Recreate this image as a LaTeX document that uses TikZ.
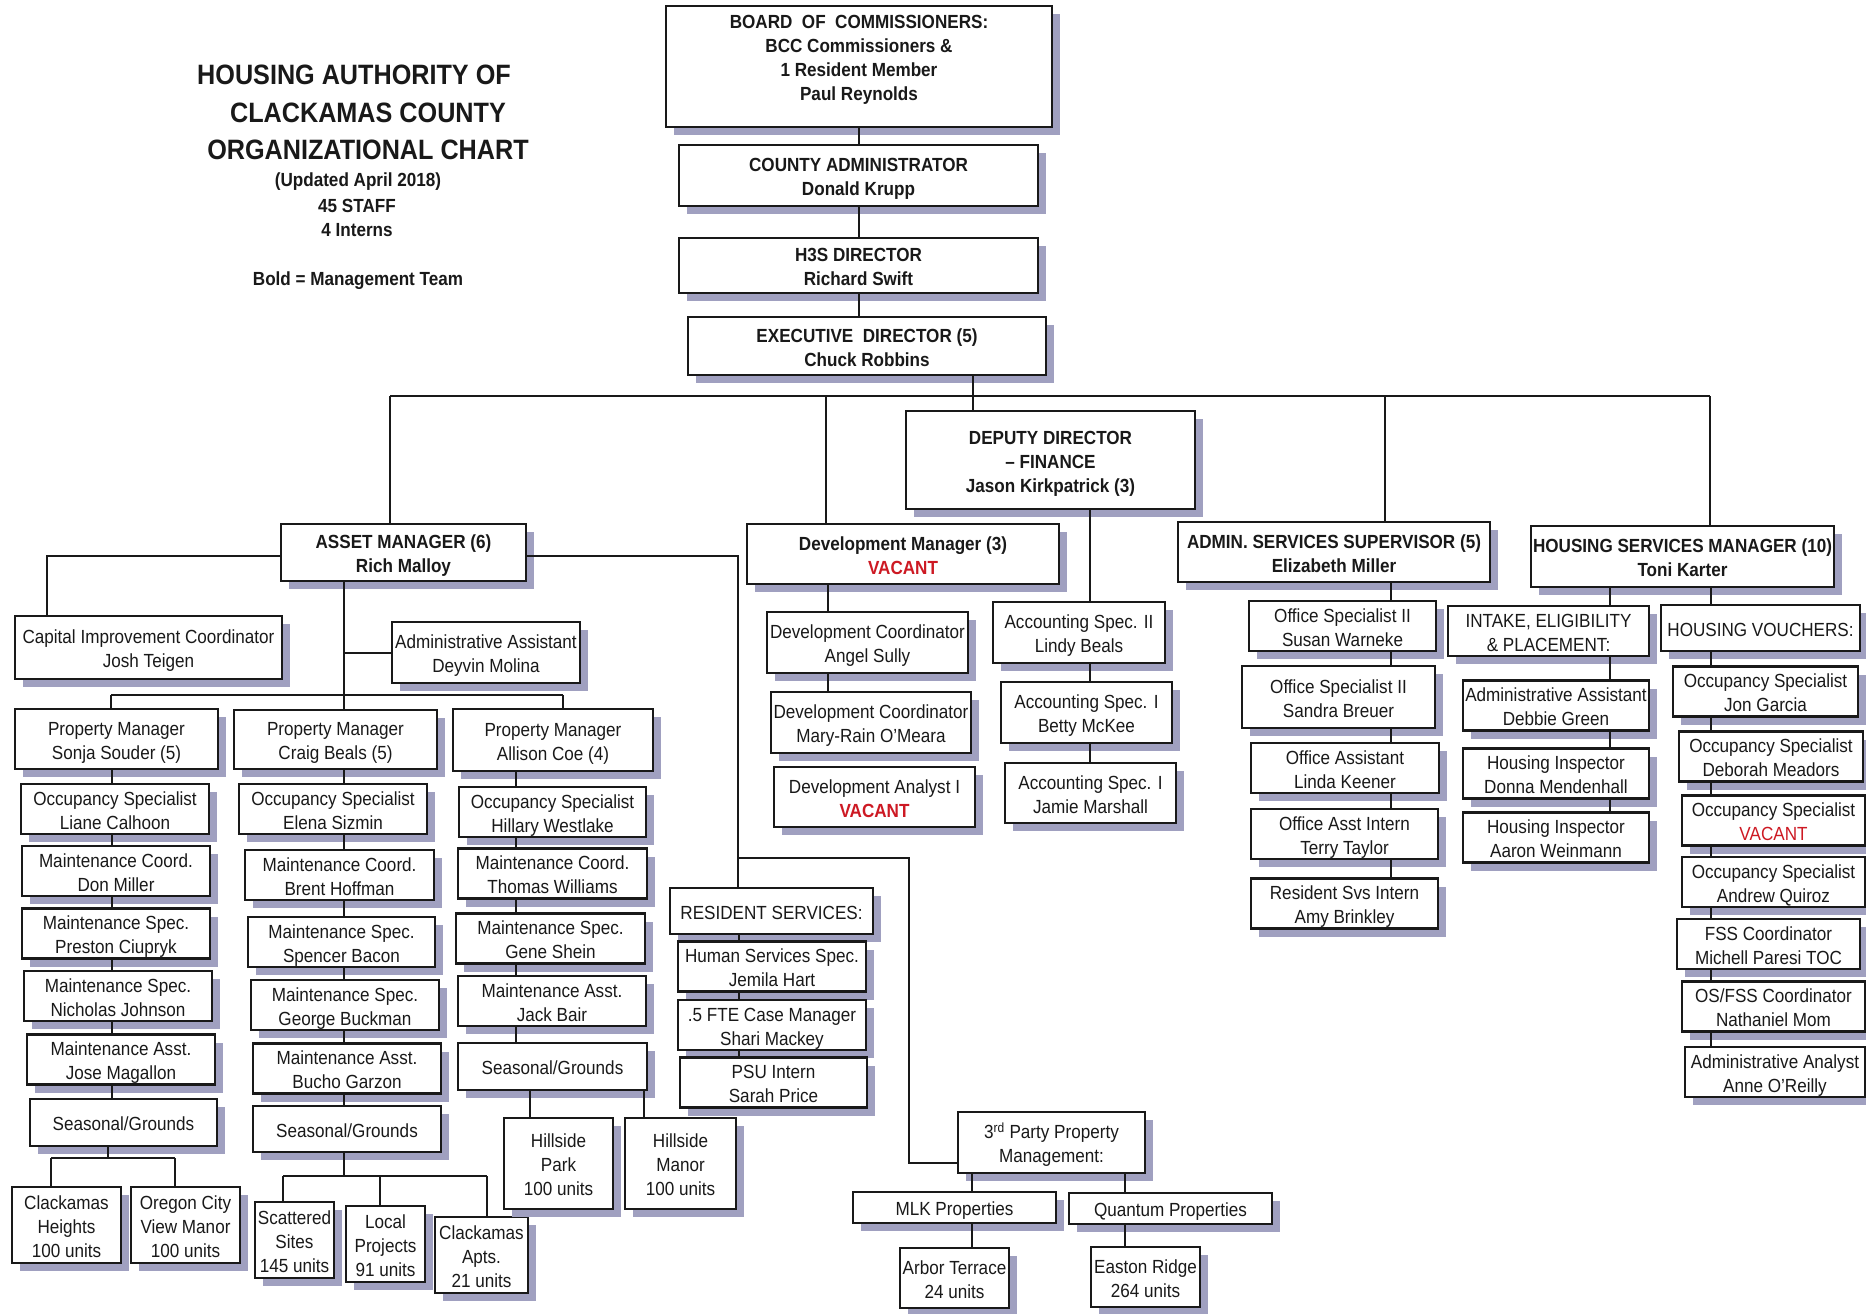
\documentclass[tikz,border=0pt]{standalone}
\usepackage{fontspec}
\setmainfont{Liberation Sans}[FakeStretch=0.9]
\usetikzlibrary{shadows}
\definecolor{shad}{RGB}{160,160,192}
\definecolor{vac}{RGB}{205,25,35}
\definecolor{ink}{RGB}{25,25,25}
\newcommand\fsz{\fontsize{19}{24}\selectfont}
\newcommand\tsz{\fontsize{28}{38}\selectfont}
\newcommand\topstrut{\rule{0pt}{21pt}}
\newcommand\botstrut{\rule[-5pt]{0pt}{5pt}}
\newcommand\bx[7][]{\node[box,#1,minimum width={(#4-#2)*1pt},minimum height={(#5-#3)*1pt}] (#6) at ({(#2+#4)/2},{(#3+#5)/2}) {\topstrut#7\botstrut};}
\newcommand\vac{{\color{vac}VACANT}}
\begin{document}
\begin{tikzpicture}[x=1pt,y=-1pt,
  box/.style={draw=ink,line width=2.5pt,fill=white,inner sep=0pt,align=center,text=ink,font=\fsz,
    drop shadow={shadow xshift=8pt,shadow yshift=-8pt,fill=shad,draw=none,opacity=1}},
  mgmt/.style={font=\fsz\bfseries},
  ln/.style={line width=2pt,draw=ink},
  ttl/.style={text=ink,font=\tsz\bfseries,inner sep=0pt},
  sub/.style={text=ink,font=\fsz\bfseries,inner sep=0pt}]
\fill[white] (0,0) rectangle (1866,1314);
\useasboundingbox (0,0) rectangle (1866,1314);

% title
\node[ttl] (t1) at (354,75) {HOUSING AUTHORITY OF};
\node[ttl] (t2) at (368,113) {CLACKAMAS COUNTY};
\node[ttl] (t3) at (368,150) {ORGANIZATIONAL CHART};
\node[sub] (t4) at (358,182) {(Updated April 2018)};
\node[sub] (t5) at (357,206) {45 STAFF};
\node[sub] (t6) at (357,230) {4 Interns};
\node[sub] (t7) at (358,281) {Bold = Management Team};

% top chain
\node[box,minimum width=386pt,minimum height=121pt] (board) at (859,66.5) {};
\node[align=center,text=ink,font=\fsz\bfseries,inner sep=0pt] (boardtxt) at (859,60) {BOARD\ \ OF\ \ COMMISSIONERS:\\BCC Commissioners \&\\1 Resident Member\\Paul Reynolds};
\bx[mgmt]{679}{145}{1038}{206}{county}{COUNTY ADMINISTRATOR\\Donald Krupp}
\bx[mgmt]{679}{238}{1038}{293}{h3s}{H3S DIRECTOR\\Richard Swift}
\bx[mgmt]{688}{317}{1046}{375}{exec}{EXECUTIVE\ \ DIRECTOR (5)\\Chuck Robbins}
\bx[mgmt]{906}{411}{1195}{509}{dd}{DEPUTY DIRECTOR\\– FINANCE\\Jason Kirkpatrick (3)}

% second level
\bx[mgmt]{281}{524}{526}{581}{am}{ASSET MANAGER (6)\\Rich Malloy}
\bx[mgmt]{747}{524}{1059}{584}{dm}{Development Manager (3)\\\vac}
\bx[mgmt]{1178}{522}{1490}{582}{asv}{ADMIN. SERVICES SUPERVISOR (5)\\Elizabeth Miller}
\bx[mgmt]{1531}{526}{1834}{587}{hsv}{HOUSING SERVICES MANAGER (10)\\Toni Karter}

% asset branch
\bx{15}{616}{282}{679}{cap}{Capital Improvement Coordinator\\Josh Teigen}
\bx{392}{622}{580}{683}{aa}{Administrative Assistant\\Deyvin Molina}
\bx{15}{709}{218}{769}{pm1}{Property Manager\\Sonja Souder (5)}
\bx{234}{710}{437}{769}{pm2}{Property Manager\\Craig Beals (5)}
\bx{453}{709}{653}{771}{pm3}{Property Manager\\Allison Coe (4)}
\bx{21}{786}{209}{832}{os1}{Occupancy Specialist\\Liane Calhoon}
\bx{239}{786}{427}{832}{os2}{Occupancy Specialist\\Elena Sizmin}
\bx{459}{788}{646}{836}{os3}{Occupancy Specialist\\Hillary Westlake}
\bx{22}{848}{210}{894}{mc1}{Maintenance Coord.\\Don Miller}
\bx{245}{852}{434}{898}{mc2}{Maintenance Coord.\\Brent Hoffman}
\bx{458}{850}{647}{897}{mc3}{Maintenance Coord.\\Thomas Williams}
\bx{22}{910}{210}{957}{msa}{Maintenance Spec.\\Preston Ciupryk}
\bx{24}{973}{212}{1019}{msb}{Maintenance Spec.\\Nicholas Johnson}
\bx{27}{1036}{215}{1083}{ma1}{Maintenance Asst.\\Jose Magallon}
\bx{30}{1099}{217}{1146}{sg1}{Seasonal/Grounds}
\bx{12}{1187}{121}{1263}{ch}{Clackamas\\Heights\\100 units}
\bx{131}{1187}{240}{1263}{ocv}{Oregon City\\View Manor\\100 units}
\bx{248}{919}{435}{965}{msc}{Maintenance Spec.\\Spencer Bacon}
\bx{251}{982}{439}{1028}{msd}{Maintenance Spec.\\George Buckman}
\bx{253}{1045}{441}{1092}{ma2}{Maintenance Asst.\\Bucho Garzon}
\bx{253}{1106}{441}{1152}{sg2}{Seasonal/Grounds}
\bx{255}{1202}{334}{1278}{ss}{Scattered\\Sites\\145 units}
\bx{346}{1206}{425}{1282}{lp}{Local\\Projects\\91 units}
\bx{435}{1217}{528}{1293}{capt}{Clackamas\\Apts.\\21 units}
\bx{456}{915}{645}{962}{mse}{Maintenance Spec.\\Gene Shein}
\bx{458}{978}{646}{1024}{ma3}{Maintenance Asst.\\Jack Bair}
\bx{458}{1043}{647}{1090}{sg3}{Seasonal/Grounds}
\bx{504}{1118}{613}{1209}{hp}{Hillside\\Park\\100 units}
\bx{625}{1118}{736}{1209}{hm}{Hillside\\Manor\\100 units}

% resident services / 3rd party
\bx{670}{888}{873}{934}{rs}{RESIDENT SERVICES:}
\bx{678}{943}{866}{990}{hsp}{Human Services Spec.\\Jemila Hart}
\bx{678}{1002}{866}{1048}{fte}{.5 FTE Case Manager\\Shari Mackey}
\bx{680}{1059}{867}{1106}{psu}{PSU Intern\\Sarah Price}
\bx{958}{1112}{1145}{1173}{tp}{3\textsuperscript{rd} Party Property\\Management:}
\bx{853}{1192}{1056}{1223}{mlk}{MLK Properties}
\bx{1069}{1193}{1272}{1224}{qp}{Quantum Properties}
\bx{900}{1248}{1009}{1308}{at}{Arbor Terrace\\24 units}
\bx{1091}{1247}{1200}{1307}{er}{Easton Ridge\\264 units}

% development / finance
\bx{767}{612}{968}{673}{dc1}{Development Coordinator\\Angel Sully}
\bx{771}{692}{971}{753}{dc2}{Development Coordinator\\Mary-Rain O'Meara}
\bx{774}{767}{975}{827}{da}{Development Analyst I\\{\bfseries\vac}}
\bx{993}{602}{1165}{663}{as2}{Accounting Spec. II\\Lindy Beals}
\bx{1001}{682}{1172}{743}{asa}{Accounting Spec. I\\Betty McKee}
\bx{1005}{763}{1176}{823}{asb}{Accounting Spec. I\\Jamie Marshall}

% admin services
\bx{1249}{603}{1436}{649}{osa}{Office Specialist II\\Susan Warneke}
\bx{1242}{666}{1435}{728}{osb}{Office Specialist II\\Sandra Breuer}
\bx{1251}{745}{1439}{791}{oa}{Office Assistant\\Linda Keener}
\bx{1251}{811}{1438}{857}{oai}{Office Asst Intern\\Terry Taylor}
\bx{1251}{880}{1438}{927}{rsi}{Resident Svs Intern\\Amy Brinkley}

% housing services
\bx{1448}{608}{1649}{654}{iep}{INTAKE, ELIGIBILITY\\\& PLACEMENT:}
\bx{1661}{605}{1860}{651}{hv}{HOUSING VOUCHERS:}
\bx{1463}{682}{1649}{729}{aad}{Administrative Assistant\\Debbie Green}
\bx{1463}{750}{1649}{797}{hia}{Housing Inspector\\Donna Mendenhall}
\bx{1463}{814}{1649}{861}{hib}{Housing Inspector\\Aaron Weinmann}
\bx{1673}{668}{1858}{715}{oc1}{Occupancy Specialist\\Jon Garcia}
\bx{1679}{733}{1863}{780}{oc2}{Occupancy Specialist\\Deborah Meadors}
\bx{1682}{798}{1865}{843}{oc3}{Occupancy Specialist\\\vac}
\bx{1682}{859}{1865}{905}{oc4}{Occupancy Specialist\\Andrew Quiroz}
\bx{1677}{921}{1860}{967}{fss}{FSS Coordinator\\Michell Paresi TOC}
\bx{1682}{983}{1865}{1030}{osf}{OS/FSS Coordinator\\Nathaniel Mom}
\bx{1685}{1048}{1865}{1096}{adan}{Administrative Analyst\\Anne O'Reilly}

% ---------- connectors ----------
\draw[ln] (board.south) -- (board.south |- county.north);
\draw[ln] (county.south) -- (county.south |- h3s.north);
\draw[ln] (h3s.south) -- (h3s.south |- exec.north);
\coordinate (gEx) at (973,396);
\draw[ln] (exec.south -| gEx) -- (dd.north -| gEx);
\coordinate (bL) at (390,396);
\coordinate (bR) at (1710,396);
\coordinate (bD) at (826,396);
\coordinate (bA) at (1385,396);
\draw[ln] (bL) -- (bR);
\draw[ln] (bL) -- (bL |- am.north);
\draw[ln] (bD) -- (bD |- dm.north);
\draw[ln] (bA) -- (bA |- asv.north);
\draw[ln] (bR) -- (bR |- hsv.north);

% asset manager
\coordinate (aL) at (47,556);
\draw[ln] (am.west |- aL) -- (aL) -- (aL |- cap.north);
\coordinate (aR) at (738,556);
\coordinate (aR2) at (738,858);
\coordinate (aR3) at (909,858);
\coordinate (aR4) at (909,1163);
\draw[ln] (am.east |- aR) -- (aR) -- (aR |- rs.north);
\draw[ln] (aR2) -- (aR3) -- (aR4) -- (aR4 -| tp.west);
\coordinate (pb) at (344,695);
\coordinate (pbL) at (111,695);
\coordinate (pbR) at (563,695);
\draw[ln] (am.south -| pb) -- (pb);
\draw[ln] (aa.west) -- (aa.west -| pb);
\draw[ln] (pbL) -- (pbR);
\draw[ln] (pbL) -- (pbL |- pm1.north);
\draw[ln] (pb) -- (pb |- pm2.north);
\draw[ln] (pbR) -- (pbR |- pm3.north);

\coordinate (c1) at (112,0);
\coordinate (c2) at (344,0);
\coordinate (c3) at (516,0);
\foreach \a/\b in {pm1/os1,os1/mc1,mc1/msa,msa/msb,msb/ma1,ma1/sg1}
  \draw[ln] (\a.south -| c1) -- (\b.north -| c1);
\foreach \a/\b in {pm2/os2,os2/mc2,mc2/msc,msc/msd,msd/ma2,ma2/sg2}
  \draw[ln] (\a.south -| c2) -- (\b.north -| c2);
\foreach \a/\b in {pm3/os3,os3/mc3,mc3/mse,mse/ma3,ma3/sg3}
  \draw[ln] (\a.south -| c3) -- (\b.north -| c3);

\coordinate (u1) at (108,1158);
\coordinate (u1L) at (51,1158);
\coordinate (u1R) at (175,1158);
\draw[ln] (sg1.south -| u1) -- (u1);
\draw[ln] (u1L) -- (u1R);
\draw[ln] (u1L) -- (u1L |- ch.north);
\draw[ln] (u1R) -- (u1R |- ocv.north);
\coordinate (u2) at (344,1176);
\coordinate (u2L) at (283,1176);
\coordinate (u2M) at (380,1176);
\coordinate (u2R) at (487,1176);
\draw[ln] (sg2.south -| u2) -- (u2);
\draw[ln] (u2L) -- (u2R);
\draw[ln] (u2L) -- (u2L |- ss.north);
\draw[ln] (u2M) -- (u2M |- lp.north);
\draw[ln] (u2R) -- (u2R |- capt.north);
\coordinate (u3a) at (530,0);
\coordinate (u3b) at (644,0);
\draw[ln] (sg3.south -| u3a) -- (hp.north -| u3a);
\draw[ln] (sg3.south -| u3b) -- (hm.north -| u3b);

% resident / third party
\coordinate (c4) at (739,0);
\foreach \a/\b in {rs/hsp,hsp/fte,fte/psu}
  \draw[ln] (\a.south -| c4) -- (\b.north -| c4);
\coordinate (c5) at (972,0);
\coordinate (c6) at (1125,0);
\foreach \a/\b in {tp/mlk,mlk/at}
  \draw[ln] (\a.south -| c5) -- (\b.north -| c5);
\foreach \a/\b in {tp/qp,qp/er}
  \draw[ln] (\a.south -| c6) -- (\b.north -| c6);

% development / finance
\coordinate (c7) at (828,0);
\foreach \a/\b in {dm/dc1,dc1/dc2}
  \draw[ln] (\a.south -| c7) -- (\b.north -| c7);
\coordinate (c8) at (1090,0);
\foreach \a/\b in {dd/as2,as2/asa,asa/asb}
  \draw[ln] (\a.south -| c8) -- (\b.north -| c8);

% admin services
\coordinate (c9) at (1391,0);
\foreach \a/\b in {asv/osa,osa/osb,osb/oa,oa/oai,oai/rsi}
  \draw[ln] (\a.south -| c9) -- (\b.north -| c9);

% housing services
\coordinate (c10) at (1610,0);
\foreach \a/\b in {hsv/iep,iep/aad,aad/hia,hia/hib}
  \draw[ln] (\a.south -| c10) -- (\b.north -| c10);
\coordinate (c11) at (1711,0);
\foreach \a/\b in {hsv/hv,hv/oc1,oc1/oc2,oc2/oc3,oc3/oc4,oc4/fss,fss/osf,osf/adan}
  \draw[ln] (\a.south -| c11) -- (\b.north -| c11);
\end{tikzpicture}
\end{document}
